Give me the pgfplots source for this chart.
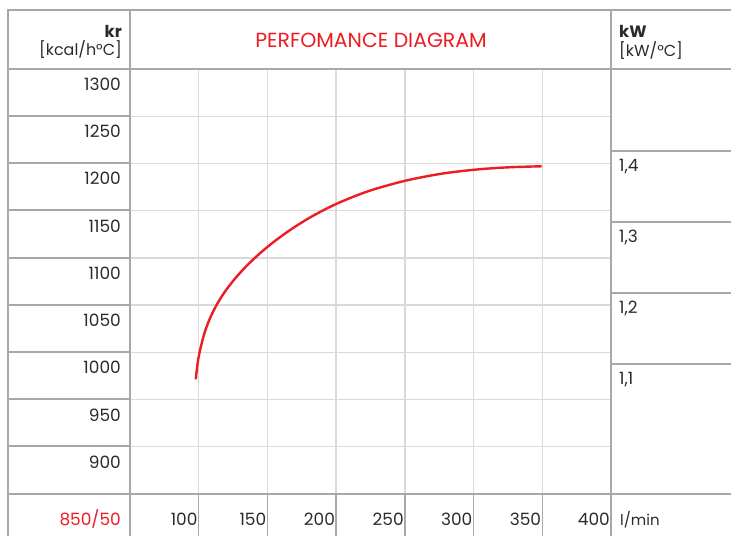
\documentclass[border=0pt]{standalone}
\usepackage{fontspec}
\setmainfont{Poppins}
\usepackage{pgfplots}
\pgfplotsset{compat=1.18}
\definecolor{frame}{HTML}{A8A8A8}
\definecolor{gridc}{HTML}{DADADA}
\definecolor{redline}{HTML}{ED1C24}
\definecolor{txt}{HTML}{2B2B2B}

\begin{document}
\begin{tikzpicture}
\useasboundingbox (0,0) rectangle (731bp,536bp);

% main plot area: flow (l/min) against kr (kcal/h°C)
\begin{axis}[
  at={(130bp,42bp)}, anchor=south west,
  scale only axis, width=481bp, height=425bp,
  xmin=50, xmax=400, ymin=850, ymax=1300,
  clip=false,
  xtick={100,150,200,250,300,350,400},
  xticklabels={100,150,200,250,300,350,400},
  ytick={900,950,1000,1050,1100,1150,1200,1250,1300},
  yticklabels={900,950,1000,1050,1100,1150,1200,1250,1300},
  grid=major,
  major grid style={gridc, line width=1.3bp},
  axis line style={frame, line width=1.3bp},
  major tick length=0pt,
  /pgf/number format/assume math mode=true,
  tick label style={font=\fontsize{17}{19}\selectfont, text=txt, inner sep=0pt},
  yticklabel style={anchor=base east, xshift=-9bp, yshift=-21.5bp},
  xticklabel style={anchor=base east, xshift=-1bp, yshift=-31bp},
]
\addplot[redline, line width=2.4bp, smooth] coordinates {
  (97.83,971.4)(99.49,991.2)(101.45,1005.3)(104.35,1021.1)(107.97,1035.3)
  (112.83,1049.7)(118.84,1063.8)(126.09,1077.5)(134.57,1091.1)(144.2,1104.4)
  (155.07,1117.5)(168.33,1131.3)(182.83,1144.3)(200.94,1157.7)(223.91,1170.9)
  (250.94,1181.9)(277.03,1189.2)(301.67,1193.5)(325.36,1195.9)(349.49,1197.0)
};
% separators of the bottom label row
\foreach \xv in {100,150,200,250,300,350}{
  \edef\tmp{\noexpand\draw[frame, line width=1.3bp]
    (axis cs:\xv,850) -- ([yshift=-42bp]axis cs:\xv,850);}
  \tmp
}
\end{axis}

% right scale in kW/°C
\begin{axis}[
  at={(130bp,42bp)}, anchor=south west,
  scale only axis, width=481bp, height=425bp,
  xmin=50, xmax=400, ymin=0.9169, ymax=1.5155,
  hide x axis,
  axis y line*=right,
  y axis line style={draw=none},
  ytick={1.1,1.2,1.3,1.4},
  yticklabels={{1,1},{1,2},{1,3},{1,4}},
  major tick length=0pt,
  /pgf/number format/assume math mode=true,
  yticklabel style={font=\fontsize{17}{19}\selectfont, text=txt, inner sep=0pt,
    anchor=base west, xshift=8bp, yshift=-20bp},
]
\addplot[draw=none] coordinates {(100,1.2)};
\end{axis}

% table frame
\begin{scope}[frame, line width=1.3bp]
\draw (8bp,0) -- (8bp,526bp) -- (731bp,526bp);
\draw (130bp,0) -- (130bp,526bp);
\draw (611bp,0) -- (611bp,526bp);
\foreach \yv in {467,420,373,326,278,231,184,137,90,42}
  \draw (8bp,\yv bp) -- (130bp,\yv bp);
\foreach \yv in {467,385,314,243,172,42}
  \draw (611bp,\yv bp) -- (731bp,\yv bp);
\end{scope}

% headings
\begin{scope}[inner sep=0pt, text=txt]
\node[anchor=base east, font=\bfseries\fontsize{16.5}{18}\selectfont] at (122bp,498.5bp) {kr};
\node[anchor=base east, font=\fontsize{16}{18}\selectfont] at (122bp,480bp) {[kcal/h°C]};
\node[anchor=base west, font=\bfseries\fontsize{16.5}{18}\selectfont] at (619bp,498.7bp) {kW};
\node[anchor=base west, font=\fontsize{16}{18}\selectfont] at (619bp,479.3bp) {[kW/°C]};
\node[anchor=base, text=redline, font=\fontsize{20.5}{22}\selectfont] at (371bp,488.7bp) {PERFOMANCE DIAGRAM};
\node[anchor=base east, text=redline, font=\fontsize{17}{19}\selectfont] at (121bp,11bp) {850/50};
\node[anchor=base west, font=\fontsize{15}{18}\selectfont] at (620bp,11bp) {l/min};
\end{scope}
\end{tikzpicture}
\end{document}
